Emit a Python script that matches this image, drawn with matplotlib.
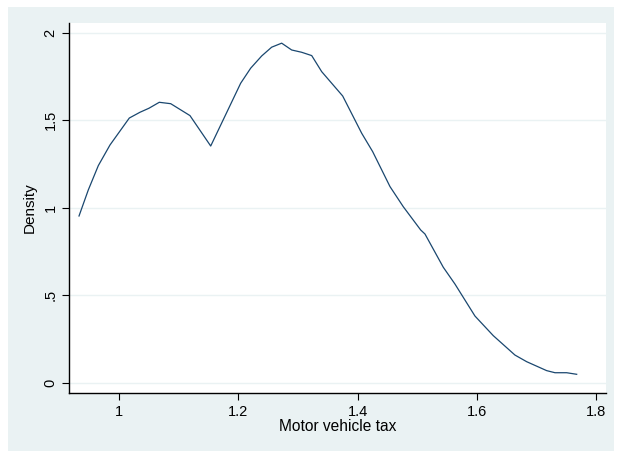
import matplotlib.pyplot as plt
from matplotlib.patches import Rectangle

# kernel density of motor vehicle tax
tax = [0.9324, 0.948, 0.9648, 0.9844, 1.0168, 1.0347, 1.0498, 1.0671, 1.0863,
       1.1186, 1.1534, 1.2037, 1.2205, 1.239, 1.2557, 1.2725, 1.2893, 1.306,
       1.3229, 1.3397, 1.3749, 1.4068, 1.4252, 1.4543, 1.4766, 1.5058, 1.513,
       1.5437, 1.5633, 1.5969, 1.6276, 1.664, 1.6837, 1.7172, 1.7312, 1.7508,
       1.7676]
density = [0.953, 1.102, 1.241, 1.359, 1.513, 1.546, 1.569, 1.603, 1.595,
           1.527, 1.353, 1.712, 1.798, 1.868, 1.918, 1.941, 1.902, 1.889,
           1.870, 1.778, 1.639, 1.426, 1.321, 1.121, 1.006, 0.873, 0.850,
           0.660, 0.564, 0.381, 0.269, 0.158, 0.120, 0.069, 0.057, 0.057,
           0.048]

x_ticks = [1, 1.2, 1.4, 1.6, 1.8]
x_labels = ['1', '1.2', '1.4', '1.6', '1.8']
y_ticks = [0, 0.5, 1, 1.5, 2]
y_labels = ['0', '.5', '1', '1.5', '2']

plt.rcParams['font.family'] = ['Liberation Sans', 'DejaVu Sans']

W, H = 617, 451
fig = plt.figure(figsize=(W / 100, H / 100), dpi=100, facecolor='white')

# Stata-style outer panel
bg = Rectangle((8 / W, 0), (614 - 8) / W, 1 - 7 / H, transform=fig.transFigure,
               facecolor='#eaf2f3', edgecolor='none', zorder=-10)
fig.patches.append(bg)

ax = fig.add_axes([69.3 / W, 1 - 392.7 / H, (606 - 69.3) / W, (392.7 - 22.7) / H])
ax.set_zorder(1)
ax.set_facecolor('white')

ax.plot(tax, density, color='#1a476f', linewidth=0.9, zorder=3)

ax.set_xlim(0.9161, 1.8168)
ax.set_ylim(-0.0572, 2.058)

ax.set_xticks(x_ticks)
ax.set_xticklabels(x_labels)
ax.set_yticks(y_ticks)
ax.set_yticklabels(y_labels, rotation=90, va='center')

ax.tick_params(axis='both', direction='out', length=5, width=0.8,
               labelsize=10.5, color='black', pad=3.5)

ax.grid(axis='y', color='#eaf2f3', linewidth=1.0, zorder=1)
ax.set_axisbelow(True)

for side in ['top', 'right']:
    ax.spines[side].set_visible(False)
for side in ['left', 'bottom']:
    ax.spines[side].set_linewidth(1.0)
    ax.spines[side].set_color('black')

ax.set_xlabel('Motor vehicle tax', fontsize=11.2, labelpad=0)
ax.set_ylabel('Density', fontsize=11, labelpad=5)

fig.savefig('out.png', dpi=100, facecolor='white')
